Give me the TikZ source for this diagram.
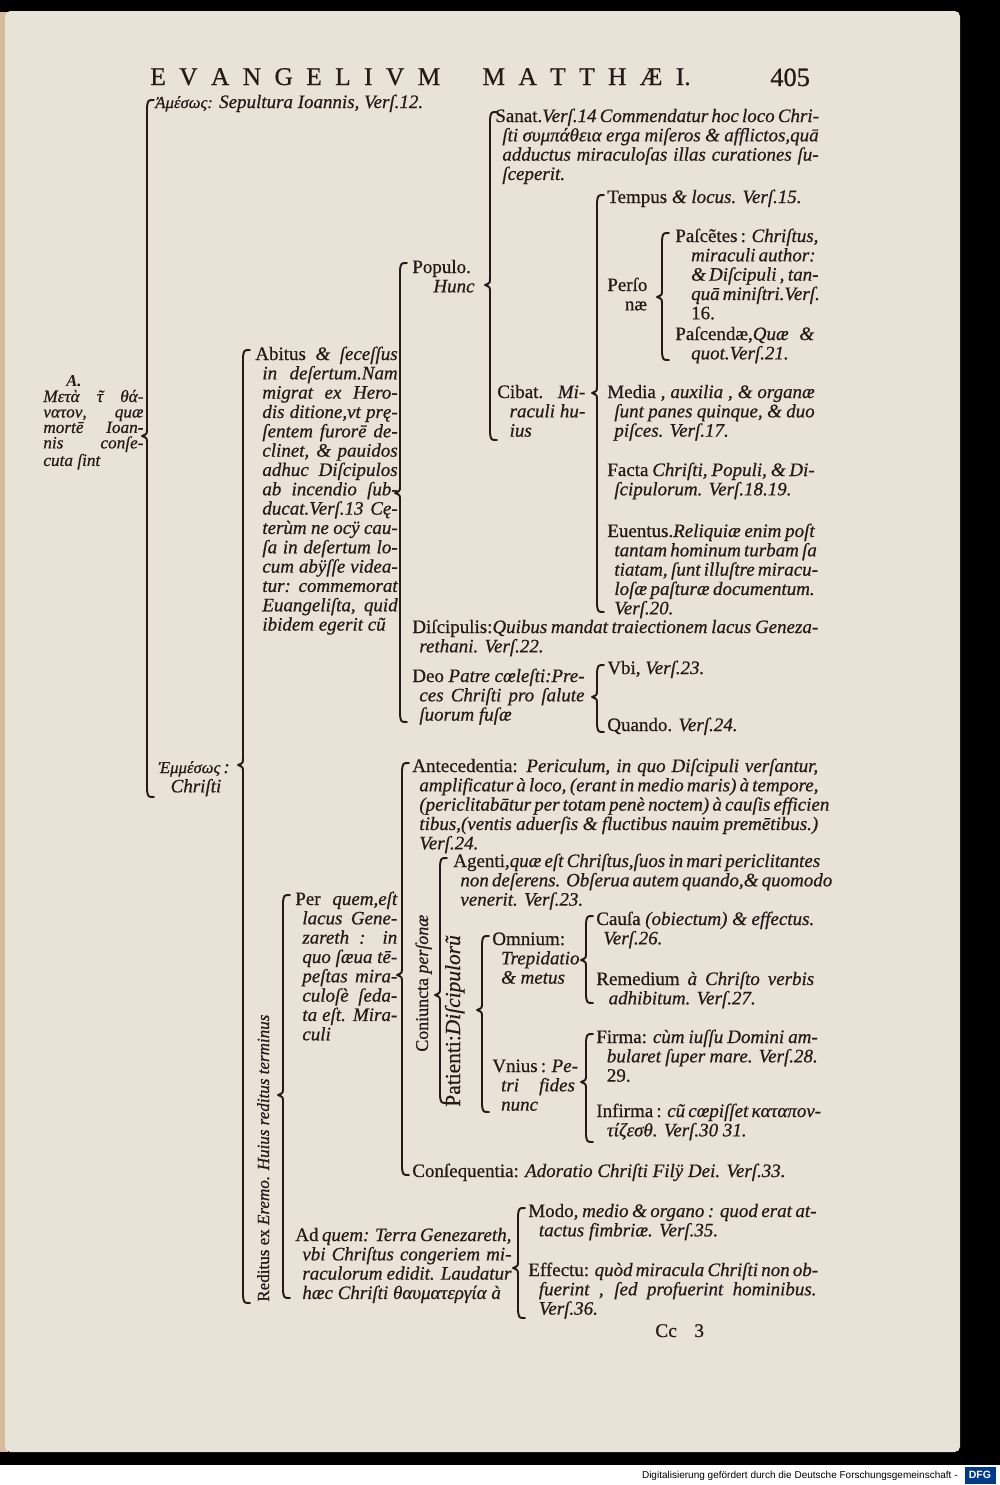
\documentclass[tikz,border=0pt]{standalone}
\usepackage{fontspec}
\setmainfont{Liberation Serif}[UprightFeatures={FakeBold=0.6}, ItalicFeatures={FakeBold=0.6}]
\newfontfamily\footfont{Liberation Sans}

\definecolor{page}{RGB}{232,227,215}
\definecolor{ink}{RGB}{34,27,23}
\definecolor{dfgblue}{RGB}{0,58,140}

% letter spacing of the running head
\newcommand{\ls}{\hspace{7.6pt}}
% tau with the abbreviation mark
\newcommand{\tautil}{\rlap{\kern0.05em˜}τ}
% block of set lines, all but the last justified, lines 2.. indented by #1
\newcommand{\blk}[3][4pt]{\vtop{\hsize=#2\hbadness=10000\hfuzz=40pt%
  \def\\{\unskip\egroup\hbox to\hsize\bgroup\hspace{#1}\ignorespaces}%
  \hbox to\hsize\bgroup\ignorespaces#3\unskip\hfil\egroup}}
% printed brace: x, top, tip, bottom
\newcommand{\bracket}[4]{%
  \draw[bracestroke] ({#1+7},#2) .. controls ({#1+1},#2) .. ({#1},{#2+7})
    -- ({#1},{#3-7}) .. controls ({#1},{#3-2}) .. ({#1-5},#3)
    .. controls ({#1},{#3+2}) .. ({#1},{#3+7})
    -- ({#1},{#4-7}) .. controls ({#1+1},#4) .. ({#1+7},#4);}

\begin{document}
\begin{tikzpicture}[x=0.02cm, y=-0.02cm,
  txt/.style={anchor=base west, inner sep=0pt, text=ink, font=\fontsize{10.8}{11}\selectfont\itshape},
  smalltxt/.style={txt, font=\fontsize{9.8}{8.8}\selectfont\itshape},
  rot/.style={txt, rotate=90},
  hdr/.style={txt, font=\fontsize{14.5}{15}\selectfont\upshape},
  bracestroke/.style={draw=ink, line width=1.1pt, line cap=round, line join=round}]

\useasboundingbox (0,0) rectangle (1000,1485);

% scan and page:
\fill[black] (0,0) rectangle (1000,1465);
\fill[white] (0,1465) rectangle (1000,1485);
\fill[page!60!brown] (0,12) rectangle (8,1452);
\fill[page, rounded corners=3] (5,11) rectangle (960,1452);

% running head:
\node[hdr] (head) at (150,85) {E\ls V\ls A\ls N\ls G\ls E\ls L\ls I\ls V\ls M\hspace{24pt}M\ls A\ls T\ls T\ls H\ls Æ\ls I.};
\node[hdr, font=\fontsize{15}{15}\selectfont] (folio) at (770,86) {405};

% first division:
\node[txt] (amesos) at (155,108) {{\fontsize{9.5}{9}\selectfont Ἀμέσως:} Sepultura Ioannis, Verſ.12.};
\node[smalltxt, font=\fontsize{9.5}{9}\selectfont\bfseries\itshape] (alabel) at (66,386) {A.};
\node[smalltxt] (meta) at (43,402) {\blk[0pt]{57pt}{Μετὰ \tautil{} θά-\\νατον, quæ\\mortē Ioan-\\nis conſe-\\cuta ſint}};
\node[txt] (emmesos) at (158,773) {\blk[7pt]{60pt}{{\fontsize{9.5}{9}\selectfont Ἐμμέσως}\,:\hfill\\Chriſti}};
\bracket{147}{100}{436}{797}

% Abitus:
\node[txt] (abitus) at (255,360) {\blk{81pt}{\textup{Abitus} \& ſeceſſus\\in deſertum.Nam\\migrat ex Hero-\\dis ditione,vt prę-\\ſentem furorē de-\\clinet, \& pauidos\\adhuc Diſcipulos\\ab incendio ſub-\\ducat.Verſ.13 Cę-\\terùm ne ocÿ cau-\\ſa in deſertum lo-\\cum abÿſſe videa-\\tur: commemorat\\Euangeliſta, quid\\ibidem egerit cũ}};
\bracket{243}{350}{765}{1303}

\node[txt] (populo) at (412,273) {\blk[12pt]{45pt}{\textup{Populo.}\\Hunc}};
\bracket{400}{263}{493}{722}

\node[txt] (sanat) at (495,122) {\blk{184pt}{\textup{Sanat.}Verſ.14 Commendatur hoc loco Chri-\\ſti συμπάθεια erga miſeros \& afflictos,quā\\adductus miraculoſas illas curationes ſu-\\ſceperit.}};
\node[txt] (cibat) at (497,398) {\blk[7pt]{50pt}{\textup{Cibat.} Mi-\\raculi hu-\\ius}};
\bracket{490}{112}{285}{440}

\node[txt] (tempus) at (607,203) {\textup{Tempus} \& locus. Verſ.15.};
\node[txt] (personae) at (607,291) {\blk[10pt]{35pt}{\textup{Perſo}\\\textup{næ}}};
\node[txt] (media) at (607,398) {\blk{118pt}{\textup{Media ,} auxilia , \& organæ\\ſunt panes quinque, \& duo\\piſces. Verſ.17.}};
\node[txt] (facta) at (607,476) {\blk{118pt}{\textup{Facta} Chriſti, Populi, \& Di-\\ſcipulorum. Verſ.18.19.}};
\node[txt] (euentus) at (607,537) {\blk{118pt}{\textup{Euentus.}Reliquiæ enim poſt\\tantam hominum turbam ſa\\tiatam, ſunt illuſtre miracu-\\loſæ paſturæ documentum.\\Verſ.20.}};
\bracket{597}{195}{393}{612}

\node[txt] (pascentes) at (675,242) {\blk[9pt]{79pt}{\textup{Paſcẽtes :} Chriſtus,\\miraculi author:\\\& Diſcipuli , tan-\\quā miniſtri.Verſ.\\\textup{16.}}};
\node[txt] (pascendae) at (675,340) {\blk[9pt]{79pt}{\textup{Paſcendæ,}Quæ \&\\quot.Verſ.21.}};
\bracket{662}{233}{297}{360}

\node[txt] (discipulis) at (412,633) {\blk{231pt}{\textup{Diſcipulis:}Quibus mandat traiectionem lacus Geneza-\\rethani. Verſ.22.}};
\node[txt] (deo) at (412,682) {\blk{98pt}{\textup{Deo} Patre cœleſti:Pre-\\ces Chriſti pro ſalute\\ſuorum fuſæ}};
\node[txt] (vbi) at (607,674) {\textup{Vbi,} Verſ.23.};
\node[txt] (quando) at (607,731) {\textup{Quando.} Verſ.24.};
\bracket{597}{665}{697}{732}

% Reditus:
\node[rot, font=\fontsize{9.7}{11}\selectfont\itshape] (reditus) at (269,1302) {\textup{Reditus ex} Eremo. Huius reditus terminus};
\node[txt] (perquem) at (295,905) {\blk{58pt}{\textup{Per} quem,eſt\\lacus Gene-\\zareth : in\\quo ſæua tē-\\peſtas mira-\\culoſè ſeda-\\ta eſt. Mira-\\culi}};
\node[txt] (adquem) at (295,1241) {\blk{123pt}{\textup{Ad} quem: Terra Genezareth,\\vbi Chriſtus congeriem mi-\\raculorum edidit. Laudatur\\hæc Chriſti θαυματεργία à}};
\bracket{283}{895}{1095}{1298}

\node[txt] (antecedentia) at (412,772) {\blk{231pt}{\textup{Antecedentia:} Periculum, in quo Diſcipuli verſantur,\\amplificatur à loco, (erant in medio maris) à tempore,\\(periclitabātur per totam penè noctem) à cauſis efficien\\tibus,(ventis aduerſis \& fluctibus nauim premētibus.)\\Verſ.24.}};
\node[rot, font=\fontsize{10.2}{11}\selectfont\itshape] (coniuncta) at (428,1052) {\textup{Coniuncta} perſonæ};
\node[txt] (consequentia) at (412,1177) {\textup{Conſequentia:} Adoratio Chriſti Filÿ Dei. Verſ.33.};
\bracket{402}{763}{975}{1175}

\node[txt] (agenti) at (453,867) {\blk{205pt}{\textup{Agenti,}quæ eſt Chriſtus,ſuos in mari periclitantes\\non deſerens. Obſerua autem quando,\& quomodo\\venerit. Verſ.23.}};
\node[rot, font=\fontsize{12.2}{11}\selectfont\itshape] (patienti) at (460,1107) {\textup{Patienti:}Diſcipulorũ};
\bracket{440}{858}{995}{1103}

\node[txt] (omnium) at (492,945) {\blk[5pt]{50pt}{\textup{Omnium:}\\Trepidatio\\\& metus\hfill}};
\node[txt] (vnius) at (492,1072) {\blk[5pt]{47pt}{\textup{Vnius :} Pe-\\tri fides\\nunc}};
\bracket{482}{936}{1010}{1112}

\node[txt] (causa) at (596,925) {\blk{124pt}{\textup{Cauſa} (obiectum) \& effectus.\\Verſ.26.}};
\node[txt] (remedium) at (596,985) {\blk[7pt]{124pt}{\textup{Remedium} à Chriſto verbis\\adhibitum. Verſ.27.}};
\bracket{586}{916}{960}{1003}

\node[txt] (firma) at (596,1043) {\blk[6pt]{126pt}{\textup{Firma:} cùm iuſſu Domini am-\\bularet ſuper mare. Verſ.28.\\\textup{29.}}};
\node[txt] (infirma) at (596,1117) {\blk[6pt]{126pt}{\textup{Infirma :} cũ cœpiſſet καταπον-\\τίζεσθ. Verſ.30 31.}};
\bracket{586}{1034}{1082}{1142}

\node[txt] (modo) at (528,1217) {\blk[6pt]{164pt}{\textup{Modo,} medio \& organo : quod erat at-\\tactus fimbriæ. Verſ.35.}};
\node[txt] (effectu) at (528,1276) {\blk[6pt]{164pt}{\textup{Effectu:} quòd miracula Chriſti non ob-\\fuerint , ſed profuerint hominibus.\\Verſ.36.}};
\bracket{518}{1208}{1268}{1318}

% signature and scan footer:
\node[txt, font=\fontsize{11}{11}\selectfont\upshape] (signature) at (655,1337) {Cc\hspace{10pt}3};
\node[anchor=base east, inner sep=0pt, font=\footfont\fontsize{5.7}{6}\selectfont] (dfgline) at (958,1478) {Digitalisierung gefördert durch die Deutsche Forschungsgemeinschaft -};
\node[fill=dfgblue, text=white, inner sep=0pt, minimum width=0.62cm, minimum height=0.34cm, font=\footfont\bfseries\fontsize{6}{6}\selectfont] (dfg) at (980,1475) {DFG};

\end{tikzpicture}
\end{document}
